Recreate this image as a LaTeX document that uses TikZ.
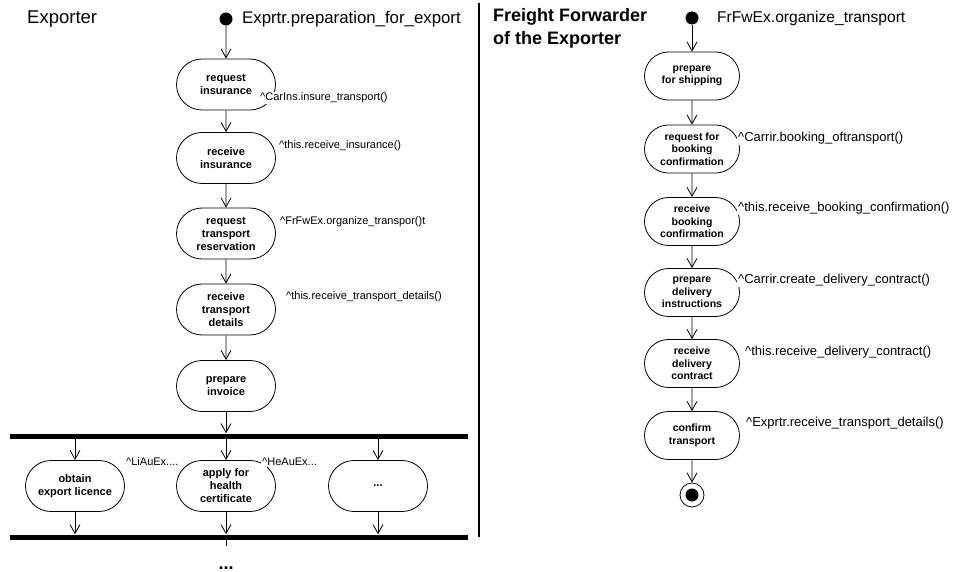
\documentclass[tikz,border=0pt]{standalone}
\usepackage{fontspec}
\setmainfont{Liberation Sans}
\usetikzlibrary{arrows.meta, shapes.misc}
\newcommand*{\Hat}{\textasciicircum}

\tikzset{
  activity/.style={draw, line width=0.8pt, rounded rectangle, minimum width=101pt, minimum height=51pt, inner sep=1pt, align=center, font=\fontsize{11}{13}\selectfont\bfseries},
  activityr/.style={activity, minimum width=97pt, minimum height=48pt, font=\fontsize{10.5}{12.5}\selectfont\bfseries},
  message/.style={anchor=west, inner sep=1pt, fill=white, font=\fontsize{11}{13}\selectfont},
  messager/.style={message, font=\fontsize{13}{15}\selectfont},
  flow/.style={draw, line width=0.8pt, -{Straight Barb[length=9pt,width=10pt]}},
  syncbar/.style={fill=black, inner sep=0pt, minimum width=458pt, minimum height=5pt},
  startdot/.style={circle, fill=black, inner sep=0pt, minimum size=13pt},
}

\begin{document}
\begin{tikzpicture}[x=1pt, y=-1pt]
  \useasboundingbox (0,0) rectangle (954,572);

  % swimlane headings
  \node[anchor=west, inner sep=0pt, font=\fontsize{18.5}{22}\selectfont] (exporter) at (27,19) {Exporter};
  \node[anchor=west, inner sep=0pt, align=left, font=\fontsize{18}{23}\selectfont\bfseries] (forwarder) at (493,28.5) {Freight Forwarder\\of the Exporter};
  \draw[line width=1.5pt] (479,3) coordinate (laneTop) -- (479,537) coordinate (laneBot);

  % exporter lane
  \node[startdot] (startL) at (226,19) {};
  \node[anchor=west, inner sep=0pt, font=\fontsize{16.8}{20}\selectfont] (startLtxt) at (242,19) {Exprtr.preparation\_for\_export};
  \node[activity] (reqins) at (226,84.5) {request\\insurance};
  \node[activity] (recins) at (226,158) {receive\\insurance};
  \node[activity] (reqtra) at (226,233.5) {request\\transport\\reservation};
  \node[activity] (rectra) at (226,309.5) {receive\\transport\\details};
  \node[activity] (invoice) at (226,386) {prepare\\invoice};
  \node[syncbar] (fork) at (239,436) {};
  \node[activity] (licence) at (75,486) {obtain\\export licence};
  \node[activity] (health) at (226,486) {apply for\\health\\certificate};
  \node[activity] (other) at (378,486) {...};
  \node[syncbar] (join) at (239,537) {};
  \coordinate (cont) at (226,546);
  \node[anchor=base, inner sep=0pt, font=\fontsize{18}{20}\selectfont\bfseries] (more) at (226,569) {...};

  \foreach \a/\b in {startL/reqins, reqins/recins, recins/reqtra, rectra/invoice, reqtra/rectra}
    \draw[flow] (\a) -- (\b);
  \draw[flow] (invoice.south) -- (invoice.south |- fork.north);
  \foreach \b in {licence, health, other}{
    \draw[flow] (fork.south -| \b) -- (\b.north);
    \draw[flow] (\b.south) -- (\b.south |- join.north);
  }
  \draw[line width=0.8pt] (join.south -| cont) -- (cont);

  \node[message] (m1) at (259,98) {\Hat CarIns.insure\_transport()};
  \node[message] (m2) at (278,146) {\Hat this.receive\_insurance()};
  \node[message] (m3) at (279,222) {\Hat FrFwEx.organize\_transpor()t};
  \node[message] (m4) at (285,297) {\Hat this.receive\_transport\_details()};
  \node[message] (m5) at (125,462) {\Hat LiAuEx....};
  \node[message] (m6) at (261,462) {\Hat HeAuEx...};

  % forwarder lane
  \node[startdot] (startR) at (692,18) {};
  \node[anchor=west, inner sep=0pt, font=\fontsize{15.6}{19}\selectfont] (startRtxt) at (717,18) {FrFwEx.organize\_transport};
  \node[activityr] (prepship) at (692,76) {prepare\\for shipping};
  \node[activityr] (reqbook) at (692,149) {request for\\booking\\confirmation};
  \node[activityr] (recbook) at (692,221.5) {receive\\booking\\confirmation};
  \node[activityr] (prepdel) at (692,292.5) {prepare\\delivery\\instructions};
  \node[activityr] (recdel) at (692,363.5) {receive\\delivery\\contract};
  \node[activityr] (confirm) at (692,435.5) {confirm\\transport};
  \node[circle, draw, line width=0.8pt, minimum size=24pt, inner sep=0pt] (endR) at (692,495) {};
  \node[circle, fill=black, minimum size=13pt, inner sep=0pt] (endRdot) at (endR) {};

  \foreach \a/\b in {startR/prepship, prepship/reqbook, reqbook/recbook, recbook/prepdel, prepdel/recdel, recdel/confirm, confirm/endR}
    \draw[flow] (\a) -- (\b);

  \node[messager] (r1) at (737,138) {\Hat Carrir.booking\_oftransport()};
  \node[messager] (r2) at (737,208) {\Hat this.receive\_booking\_confirmation()};
  \node[messager] (r3) at (737,280) {\Hat Carrir.create\_delivery\_contract()};
  \node[messager] (r4) at (744,352) {\Hat this.receive\_delivery\_contract()};
  \node[messager] (r5) at (745,423) {\Hat Exprtr.receive\_transport\_details()};
\end{tikzpicture}
\end{document}
